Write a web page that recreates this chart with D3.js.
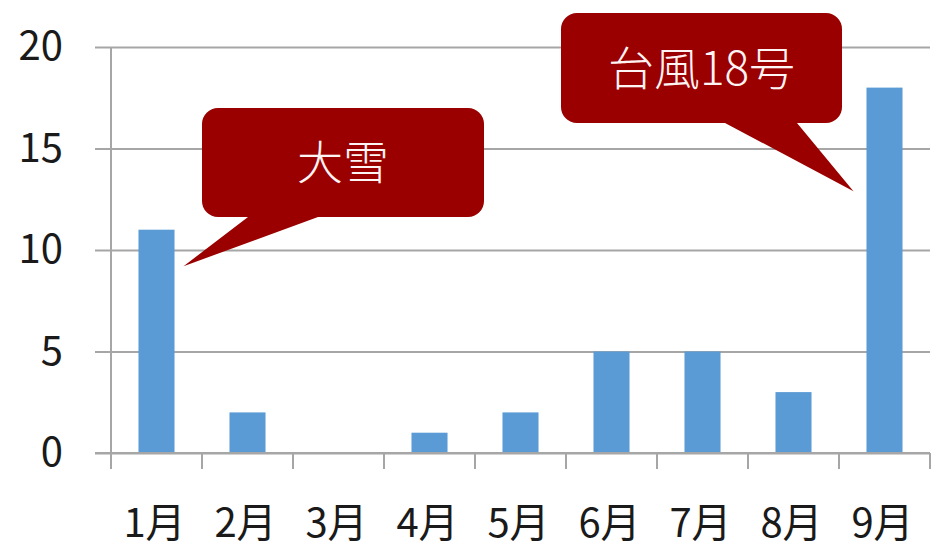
<!DOCTYPE html>
<html><head><meta charset="utf-8">
<script src="https://cdn.jsdelivr.net/npm/d3@7"></script>
<style>
html,body{margin:0;padding:0;background:#fff;}
svg{display:block;font-family:"Noto Sans CJK JP","Noto Sans",sans-serif;}
</style></head>
<body>
<svg id="c" width="931" height="549"></svg>
<script>
const categories = ["1月","2月","3月","4月","5月","6月","7月","8月","9月"];
const values = [11, 2, 0, 1, 2, 5, 5, 3, 18];
const yTicks = [0, 5, 10, 15, 20];
const calloutTexts = ["大雪", "台風18号"];
const calloutCategories = ["1月", "9月"];

(function () {
const svg = d3.select("#c");
const mLeft = 111, mRight = 930, mTop = 47, mBottom = 453;

const x = d3.scaleBand().domain(categories).range([mLeft, mRight]).paddingInner(0.604).paddingOuter(0.302);
const y = d3.scaleLinear().domain([0, 20]).range([mBottom, mTop]);

const gridColor = "#a6a6a6";

// gridlines + y ticks
const yAxis = d3.axisLeft(y).tickValues(yTicks).tickSize(16).tickPadding(32).tickFormat(d3.format("d"));
const gy = svg.append("g").attr("transform", `translate(${mLeft},0)`).call(yAxis);
gy.select(".domain").attr("stroke", gridColor).attr("stroke-width", 2).attr("d", `M0,${mTop}V${mBottom}`);
gy.selectAll(".tick line").attr("stroke", gridColor).attr("stroke-width", 2).attr("x2", -16).attr("x1", mRight - mLeft);
gy.selectAll(".tick text").attr("font-size", 40).attr("fill", "#1a1a1a").attr("font-family", "'Noto Sans CJK JP',sans-serif");

// bars
svg.append("g").selectAll("rect").data(values).join("rect")
  .attr("x", (d, i) => x(categories[i]))
  .attr("width", x.bandwidth())
  .attr("y", d => y(d))
  .attr("height", d => y(0) - y(d))
  .attr("fill", "#5b9bd5");

// x axis
const step = x.step();
const gx = svg.append("g");
gx.append("line").attr("x1", mLeft - 16).attr("x2", mRight).attr("y1", mBottom).attr("y2", mBottom)
  .attr("stroke", gridColor).attr("stroke-width", 2);
gx.selectAll("line.t").data(d3.range(categories.length + 1)).join("line").attr("class", "t")
  .attr("x1", i => mLeft + i * step).attr("x2", i => mLeft + i * step)
  .attr("y1", mBottom).attr("y2", mBottom + 16)
  .attr("stroke", gridColor).attr("stroke-width", 2);
gx.selectAll("text").data(categories).join("text")
  .attr("x", d => x(d) + x.bandwidth() / 2 - 2)
  .attr("y", 537)
  .attr("text-anchor", "middle")
  .attr("font-size", 40)
  .attr("fill", "#1a1a1a")
  .text(d => d);

// callouts
function calloutPath(x0, y0, x1, y1, r, b0, b1, tx, ty) {
  const p = d3.path();
  p.moveTo(x0 + r, y0);
  p.lineTo(x1 - r, y0);
  p.arcTo(x1, y0, x1, y0 + r, r);
  p.lineTo(x1, y1 - r);
  p.arcTo(x1, y1, x1 - r, y1, r);
  p.lineTo(b1, y1);
  p.lineTo(tx, ty);
  p.lineTo(b0, y1);
  p.lineTo(x0 + r, y1);
  p.arcTo(x0, y1, x0, y1 - r, r);
  p.lineTo(x0, y0 + r);
  p.arcTo(x0, y0, x0 + r, y0, r);
  p.closePath();
  return p.toString();
}
const c1cat = calloutCategories[0], c2cat = calloutCategories[1];
const callouts = [
  { box: [202, 108, 484, 217], base: [248, 318], tip: [x(c1cat) + x.bandwidth() + 9, y(9.2)], text: calloutTexts[0], size: 46 },
  { box: [561, 13, 842, 123], base: [725, 797], tip: [x(c2cat) - 13, y(12.9)], text: calloutTexts[1], size: 46 }
];
const gc = svg.append("g");
callouts.forEach(c => {
  gc.append("path")
    .attr("d", calloutPath(c.box[0], c.box[1], c.box[2], c.box[3], 16, c.base[0], c.base[1], c.tip[0], c.tip[1]))
    .attr("fill", "#9a0000");
  gc.append("text")
    .attr("x", (c.box[0] + c.box[2]) / 2)
    .attr("y", (c.box[1] + c.box[3]) / 2)
    .attr("dy", "0.36em")
    .attr("text-anchor", "middle")
    .attr("font-size", c.size)
    .attr("font-weight", 300)
    .attr("fill", "#fff4f4")
    .text(c.text);
});
})();
</script>
</body></html>
